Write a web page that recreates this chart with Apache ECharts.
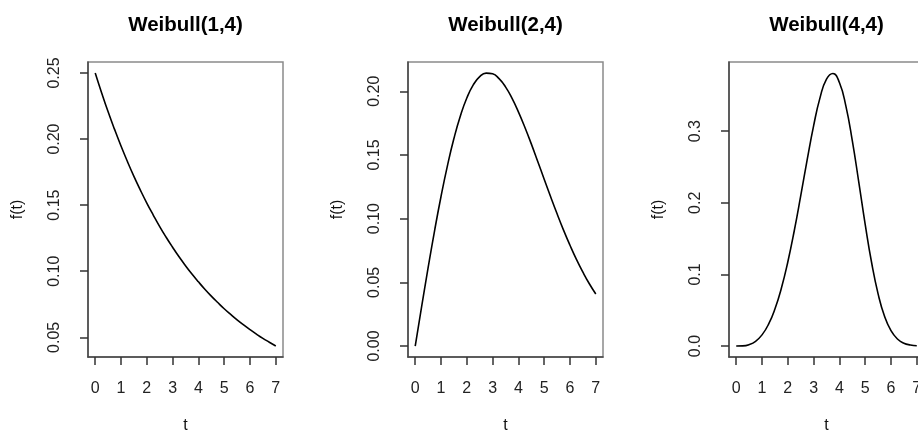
<!DOCTYPE html>
<html>
<head>
<meta charset="utf-8">
<title>Weibull densities</title>
<script src="https://cdn.jsdelivr.net/npm/echarts@6/dist/echarts.min.js"></script>
<style>
    html, body { margin: 0; padding: 0; background: #fff; }
    #chart { width: 918px; height: 434px; }
</style>
</head>
<body>
<div id="chart"></div>
<script>
// t values read along the x axis
var tVals = [0, 0.25, 0.5, 0.75, 1, 1.25, 1.5, 1.75, 2, 2.25, 2.5, 2.75, 3, 3.25, 3.5,
    3.75, 4, 4.25, 4.5, 4.75, 5, 5.25, 5.5, 5.75, 6, 6.25, 6.5, 6.75, 7];

// f(t)
var weib14 = [0.2500, 0.2349, 0.2206, 0.2073, 0.1947, 0.1829, 0.1718, 0.1614, 0.1516,
    0.1425, 0.1338, 0.1257, 0.1181, 0.1109, 0.1042, 0.0979, 0.0920, 0.0864, 0.0812,
    0.0763, 0.0716, 0.0673, 0.0632, 0.0594, 0.0558, 0.0524, 0.0492, 0.0463, 0.0434];
var weib24 = [0, 0.0311, 0.0615, 0.0905, 0.1174, 0.1417, 0.1629, 0.1806, 0.1947,
    0.2050, 0.2115, 0.2143, 0.2137, 0.2099, 0.2035, 0.1946, 0.1839, 0.1718, 0.1587,
    0.1449, 0.1310, 0.1172, 0.1038, 0.0910, 0.0791, 0.0680, 0.0580, 0.0489, 0.0409];
var weib44 = [0, 0.0002, 0.0020, 0.0066, 0.0156, 0.0302, 0.0517, 0.0807, 0.1174,
    0.1610, 0.2096, 0.2599, 0.3075, 0.3469, 0.3728, 0.3806, 0.3679, 0.3354, 0.2869,
    0.2293, 0.1700, 0.1163, 0.0729, 0.0415, 0.0214, 0.0098, 0.0040, 0.0015, 0.0005];

var titles = ['Weibull(1,4)', 'Weibull(2,4)', 'Weibull(4,4)'];
var xTicks = [0, 1, 2, 3, 4, 5, 6, 7];
var yTicks1 = [0.05, 0.10, 0.15, 0.20, 0.25];
var yTicks2 = [0.00, 0.05, 0.10, 0.15, 0.20];
var yTicks3 = [0.0, 0.1, 0.2, 0.3];
var yRanges = [[0.0351, 0.2583], [-0.0086, 0.2230], [-0.0153, 0.3966]];
var yDigits = [2, 2, 1];

var chart = echarts.init(document.getElementById('chart'));

var font = 'Liberation Sans, Arial, Helvetica, sans-serif';
var lefts = [88, 408, 729];
var allY = [weib14, weib24, weib44];
var allTicks = [yTicks1, yTicks2, yTicks3];

function pairs(ys) {
    var out = [];
    for (var i = 0; i < tVals.length; i++) {
        out.push([tVals[i], ys[i]]);
    }
    return out;
}

var option = {
    backgroundColor: '#fff',
    animation: false,
    title: [],
    grid: [],
    xAxis: [],
    yAxis: [],
    series: []
};

for (var k = 0; k < 3; k++) {
    option.title.push({
        text: titles[k],
        left: lefts[k] + 97.5,
        top: 15,
        textAlign: 'center',
        padding: 0,
        textStyle: { fontFamily: font, fontSize: 20.5, fontWeight: 'bold', color: '#000' }
    });
    option.grid.push({
        left: lefts[k], top: 62, width: 195, height: 295,
        containLabel: false, outerBoundsMode: 'none',
        show: true, borderColor: '#8a8a8a', borderWidth: 1.5, backgroundColor: 'transparent'
    });
    option.xAxis.push({
        type: 'value', gridIndex: k, min: -0.28, max: 7.28,
        name: 't', nameLocation: 'middle', nameGap: 61,
        nameTextStyle: { fontFamily: font, fontSize: 16, color: '#111' },
        axisLine: { show: true, onZero: false, lineStyle: { color: '#444', width: 1.5 } },
        axisTick: { show: true, length: 8, customValues: xTicks, lineStyle: { color: '#333', width: 1.5 } },
        axisLabel: { customValues: xTicks, margin: 24, fontFamily: font, fontSize: 16, color: '#222' },
        splitLine: { show: false }
    });
    (function (d) {
        option.yAxis.push({
            type: 'value', gridIndex: k, min: yRanges[k][0], max: yRanges[k][1],
            name: 'f(t)', nameLocation: 'middle', nameGap: 62, nameRotate: 90,
            nameTextStyle: { fontFamily: font, fontSize: 16, color: '#111' },
            axisLine: { show: true, onZero: false, lineStyle: { color: '#444', width: 1.5 } },
            axisTick: { show: true, length: 8, customValues: allTicks[k], lineStyle: { color: '#333', width: 1.5 } },
            axisLabel: {
                customValues: allTicks[k], rotate: 90, margin: 25,
                fontFamily: font, fontSize: 16, color: '#222',
                formatter: function (v) { return v.toFixed(d); }
            },
            splitLine: { show: false }
        });
    })(yDigits[k]);
    option.series.push({
        type: 'line',
        xAxisIndex: k, yAxisIndex: k,
        data: pairs(allY[k]),
        smooth: true,
        showSymbol: false,
        lineStyle: { color: '#000', width: 1.6 }
    });
}

chart.setOption(option);
</script>
</body>
</html>
